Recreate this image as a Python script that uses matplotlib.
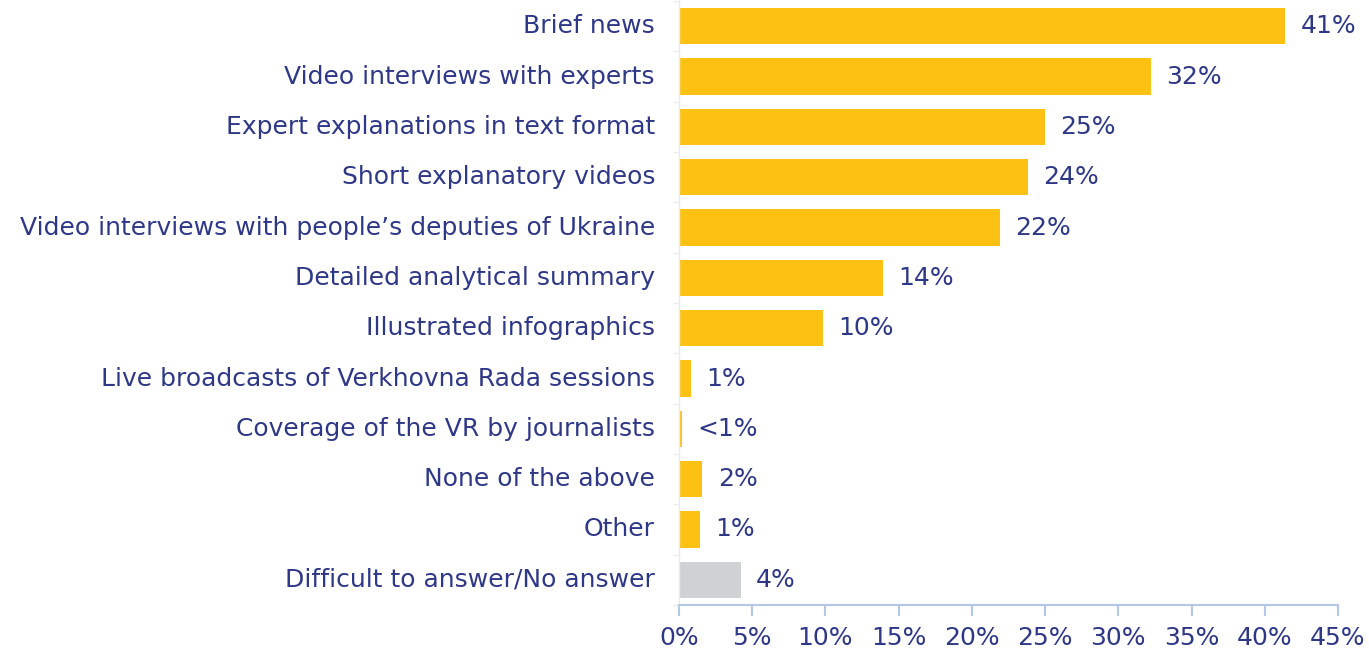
import matplotlib
matplotlib.use("Agg")
import matplotlib.pyplot as plt
import matplotlib.transforms as mtransforms
import numpy as np

categories = [
    "Brief news",
    "Video interviews with experts",
    "Expert explanations in text format",
    "Short explanatory videos",
    "Video interviews with people\u2019s deputies of Ukraine",
    "Detailed analytical summary",
    "Illustrated infographics",
    "Live broadcasts of Verkhovna Rada sessions",
    "Coverage of the VR by journalists",
    "None of the above",
    "Other",
    "Difficult to answer/No answer",
]
values = [41.4, 32.2, 25.0, 23.8, 21.9, 13.9, 9.8, 0.8, 0.2, 1.6, 1.4, 4.2]
x_ticks = [0, 5, 10, 15, 20, 25, 30, 35, 40, 45]

YELLOW = "#FCC112"
GREY = "#D0D1D3"
TEXT = "#2E3887"
AXIS = "#B4C7E7"
FS = 18

plt.rcParams["font.family"] = ["DejaVu Sans"]

fig = plt.figure(figsize=(13.69, 6.51), dpi=100)
ax = fig.add_axes([679 / 1369, 46 / 651, 659 / 1369, 604 / 651])
lift = mtransforms.ScaledTranslation(0, 2.5 / 100, fig.dpi_scale_trans)
label_shift = mtransforms.ScaledTranslation(-24 / 100, 2.5 / 100, fig.dpi_scale_trans)

y = np.arange(len(categories))
colors = [YELLOW] * (len(categories) - 1) + [GREY]
ax.barh(y, values, height=0.72, color=colors)

def pct_label(v):
    return "<1%" if v < 0.5 else f"{round(v):d}%"

for yi, v in zip(y, values):
    ax.text(v + 1.05, yi, pct_label(v), va="center_baseline", ha="left",
            fontsize=FS, color=TEXT, transform=ax.transData + lift)

# category names, drawn right-aligned against the left edge of the axes
for yi, name in zip(y, categories):
    ax.text(0, yi, name, va="center_baseline", ha="right", fontsize=FS,
            color=TEXT, transform=ax.get_yaxis_transform() + label_shift)

ax.set_xlim(0, 45)
ax.set_ylim(len(categories) - 0.5, -0.5)
ax.set_yticks(y)
ax.set_yticklabels([])
ax.set_yticks(np.arange(len(categories) + 1) - 0.5, minor=True)
ax.tick_params(axis="y", which="major", length=0)
ax.tick_params(axis="y", which="minor", length=4, color="#EBEBEB", width=1)

ax.set_xticks(x_ticks)
ax.set_xticklabels([f"{t}%" for t in x_ticks], fontsize=FS, color=TEXT)
ax.tick_params(axis="x", length=8, width=1.5, color=AXIS, pad=7)

for side in ("top", "right"):
    ax.spines[side].set_visible(False)
ax.spines["bottom"].set_color(AXIS)
ax.spines["bottom"].set_linewidth(1.5)
ax.spines["left"].set_color("#EBEBEB")
ax.spines["left"].set_linewidth(1)

fig.savefig("out.png", dpi=100)
